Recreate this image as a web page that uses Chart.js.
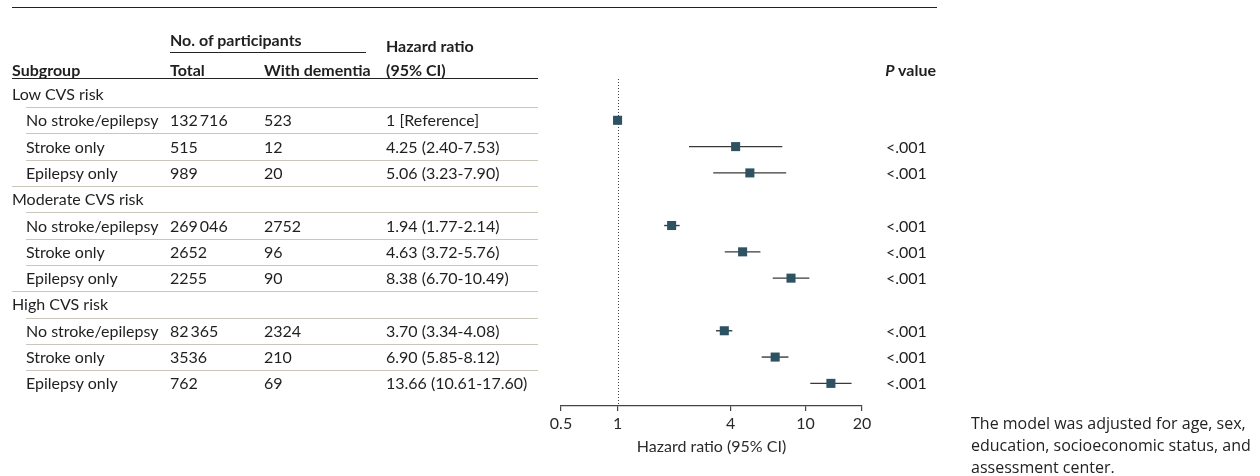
<!DOCTYPE html>
<html>
<head>
<meta charset="utf-8">
<script src="https://cdn.jsdelivr.net/npm/chart.js@4"></script>
<style>
  html, body { margin: 0; padding: 0; background: #fff; }
  body { width: 1260px; height: 476px; position: relative; overflow: hidden;
         font-family: Lato, 'Noto Sans', sans-serif; font-size: 16px; color: #1f1f1f; }
  #forest { position: absolute; left: 0; top: 0; }
  .t { position: absolute; white-space: nowrap; line-height: 18px; }
  .b { font-weight: bold; }
  .rule { position: absolute; height: 0; }
  .caption { position: absolute; left: 971px; top: 412px; width: 289px; line-height: 22px;
             font-family: 'Open Sans', sans-serif; font-size: 16px; color: #222; }
</style>
</head>
<body>
<canvas id="forest" width="1260" height="476"></canvas>
<div id="table"></div>
<div class="caption">The model was adjusted for age, sex, education, socioeconomic status, and assessment center.</div>

<script>
/* Forest plot: dementia risk by CVS risk group and stroke/epilepsy status */

// ---- data ----
var groups     = ['Low CVS risk', 'Moderate CVS risk', 'High CVS risk'];
var subgroups  = ['No stroke/epilepsy', 'Stroke only', 'Epilepsy only'];
var totals     = ['132\u2009716', '515', '989', '269\u2009046', '2652', '2255', '82\u2009365', '3536', '762'];
var dementia   = ['523', '12', '20', '2752', '96', '90', '2324', '210', '69'];
var hr         = [1, 4.25, 5.06, 1.94, 4.63, 8.38, 3.70, 6.90, 13.66];
var ciLow      = [null, 2.40, 3.23, 1.77, 3.72, 6.70, 3.34, 5.85, 10.61];
var ciHigh     = [null, 7.53, 7.90, 2.14, 5.76, 10.49, 4.08, 8.12, 17.60];
var pValues    = ['', '<.001', '<.001', '<.001', '<.001', '<.001', '<.001', '<.001', '<.001'];
var xTicks     = [0.5, 1, 4, 10, 20];

// row index of each estimate (group header rows sit between them)
function rowOf(i) { return Math.floor(i / 3) * 4 + 1 + (i % 3); }

var points = hr.map(function (v, i) { return { x: v, y: rowOf(i) }; });

// ---- plugin: reference line at HR = 1 and the CI whiskers ----
var forestLines = {
  id: 'forestLines',
  beforeDatasetsDraw: function (chart) {
    var ctx = chart.ctx, xs = chart.scales.x, ys = chart.scales.y, area = chart.chartArea;
    ctx.save();
    // dotted null line
    var x1 = Math.round(xs.getPixelForValue(1)) + 0.5;
    ctx.strokeStyle = '#444';
    ctx.lineWidth = 1;
    ctx.setLineDash([1, 2]);
    ctx.beginPath();
    ctx.moveTo(x1, area.top);
    ctx.lineTo(x1, area.bottom);
    ctx.stroke();
    // confidence intervals
    ctx.setLineDash([]);
    ctx.strokeStyle = '#3a3a3a';
    ctx.lineWidth = 1.4;
    hr.forEach(function (v, i) {
      if (ciLow[i] == null) return;
      var y = ys.getPixelForValue(rowOf(i));
      ctx.beginPath();
      ctx.moveTo(xs.getPixelForValue(ciLow[i]), y);
      ctx.lineTo(xs.getPixelForValue(ciHigh[i]), y);
      ctx.stroke();
    });
    ctx.restore();
  }
};

var chart = new Chart(document.getElementById('forest'), {
  type: 'scatter',
  data: {
    datasets: [{
      data: points,
      pointStyle: 'rect',
      pointRadius: 6.4,
      pointHoverRadius: 6.4,
      backgroundColor: '#2d5362',
      borderWidth: 0
    }]
  },
  options: {
    responsive: false,
    animation: false,
    devicePixelRatio: 1,
    layout: { padding: { left: 561, right: 398, top: 79, bottom: 0 } },
    plugins: { legend: { display: false }, tooltip: { enabled: false } },
    scales: {
      x: {
        type: 'logarithmic',
        min: 0.5,
        max: 20,
        afterBuildTicks: function (scale) {
          scale.ticks = xTicks.map(function (v) { return { value: v }; });
        },
        afterFit: function (scale) { scale.height = 70; },
        ticks: {
          autoSkip: false,
          maxRotation: 0,
          color: '#2a2a2a',
          padding: 3,
          font: { family: 'Lato', size: 16 },
          callback: function (v) { return String(v); }
        },
        grid: { display: true, drawOnChartArea: false, drawTicks: true, tickLength: 5, color: '#444', lineWidth: 1.2 },
        border: { display: true, color: '#444', width: 1.2 },
        title: {
          display: true,
          text: 'Hazard ratio (95% CI)',
          color: '#2a2a2a',
          font: { family: 'Lato', size: 16 },
          padding: { top: 4, bottom: 20 }
        }
      },
      y: {
        type: 'linear',
        reverse: true,
        min: -0.57,
        max: 11.86,
        display: false
      }
    }
  },
  plugins: [forestLines]
});

// ---- table text, placed on the chart's own row positions ----
var table = document.getElementById('table');

function addText(txt, x, yc, cls, align) {
  var d = document.createElement('div');
  d.className = 't' + (cls ? ' ' + cls : '');
  d.textContent = txt;
  d.style.top = (yc - 9) + 'px';
  if (align === 'right') { d.style.right = (1260 - x) + 'px'; } else { d.style.left = x + 'px'; }
  table.appendChild(d);
  return d;
}
function addRule(x0, x1, y, w, color) {
  var d = document.createElement('div');
  d.className = 'rule';
  d.style.left = x0 + 'px';
  d.style.width = (x1 - x0) + 'px';
  d.style.top = (y - w / 2) + 'px';
  d.style.borderTop = w + 'px solid ' + color;
  table.appendChild(d);
}

// header
addRule(12, 937, 8, 1.6, '#222');
addText('No. of participants', 170, 40, 'b');
addRule(170, 366, 52, 1, '#222');
addText('Hazard ratio', 386, 46, 'b');
addText('Subgroup', 12, 70, 'b');
addText('Total', 170, 70, 'b');
addText('With dementia', 264, 70, 'b');
addText('(95% CI)', 386, 70, 'b');
var pv = addText('', 936, 70, 'b', 'right');
pv.innerHTML = '<i>P</i> value';
addRule(12, 538, 79, 1.6, '#222');

var ys = chart.scales.y;
var rowH = ys.getPixelForValue(1) - ys.getPixelForValue(0);
var nRows = groups.length * 4;
for (var r = 0; r < nRows; r++) {
  var yc = ys.getPixelForValue(r);
  if (r % 4 === 0) {
    addText(groups[r / 4], 12, yc);
  } else {
    var i = Math.floor(r / 4) * 3 + (r % 4) - 1;
    addText(subgroups[i % 3], 26, yc);
    addText(totals[i], 170, yc);
    addText(dementia[i], 264, yc);
    addText(ciLow[i] == null ? '1 [Reference]'
      : hr[i].toFixed(2) + ' (' + ciLow[i].toFixed(2) + '-' + ciHigh[i].toFixed(2) + ')', 386, yc);
    if (pValues[i]) addText(pValues[i], 886, yc);
  }
  if (r < nRows - 1) {
    var nextIndent = ((r + 1) % 4 === 0) ? 12 : 26;
    addRule(nextIndent, 538, Math.round(yc + rowH / 2) + 0.5, 1, '#cbc6bb');
  }
}
</script>
</body>
</html>
